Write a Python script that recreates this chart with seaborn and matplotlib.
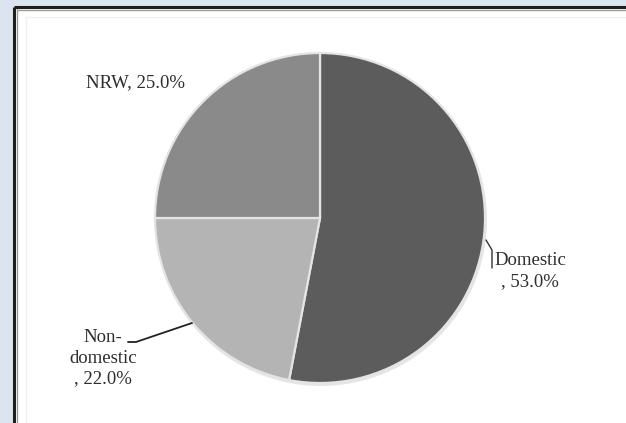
import matplotlib.pyplot as plt
import seaborn as sns
from matplotlib.patches import Rectangle

sns.set_theme(style="white")
plt.rcParams['font.family'] = ['Liberation Serif', 'DejaVu Serif']

# data
categories = ["Domestic", "Non-domestic", "NRW"]
shares = [53.0, 22.0, 25.0]
label_names = ["Domestic", "Non-\ndomestic", "NRW"]
colors = ["#5c5c5c", "#b4b4b4", "#8a8a8a"]

W, H = 626, 423


def Y(y_px):
    # pixel row (from top) -> data y (from bottom)
    return H - y_px


fig = plt.figure(figsize=(W / 100, H / 100), dpi=100, facecolor="#dbe4ef")
ax = fig.add_axes([0, 0, 1, 1])
ax.set_facecolor("none")

# white chart panel with dark top/left border
ax.add_patch(Rectangle((14, 0), W - 14, Y(7), facecolor="white", edgecolor="none", zorder=0))
ax.plot([14, 14], [0, Y(7)], color="#1e1e1e", lw=2.2, zorder=1, solid_capstyle="butt")
ax.plot([14, W], [Y(7), Y(7)], color="#1e1e1e", lw=2.2, zorder=1, solid_capstyle="butt")
ax.plot([16.5, 16.5], [0, Y(9)], color="#9a9a9a", lw=1, zorder=1)
ax.plot([16.5, W], [Y(9.5), Y(9.5)], color="#9a9a9a", lw=1, zorder=1)
# faint plot-area border
ax.plot([26, 26], [0, Y(17)], color="#f0f0f0", lw=1, zorder=1)
ax.plot([26, W], [Y(17), Y(17)], color="#f0f0f0", lw=1, zorder=1)

# soft shadow under pie
ax.pie([1], colors=["#e6e6e6"], center=(321, Y(220)), radius=166, wedgeprops=dict(linewidth=0))

wedges, _ = ax.pie(
    shares,
    colors=colors,
    startangle=90,
    counterclock=False,
    center=(320, Y(218)),
    radius=165,
    wedgeprops=dict(edgecolor="#e4e4e4", linewidth=1.6),
)

txt = dict(fontsize=13.5, color="#2e2e2e", ha="center", va="center")
ax.text(136, Y(83), f"{label_names[2]}, {shares[2]:.1f}%", **txt)
ax.text(530, Y(271), f"{label_names[0]}\n, {shares[0]:.1f}%", linespacing=1.3, **txt)
ax.text(103, Y(358), f"{label_names[1]}\n, {shares[1]:.1f}%", linespacing=1.3, **txt)

# leader lines
ax.plot([128, 136, 192], [Y(342), Y(342), Y(323)], color="#222222", lw=1.3)
ax.plot([486, 492, 492], [Y(240), Y(250), Y(268)], color="#333333", lw=1.0)

ax.set_xlim(0, W)
ax.set_ylim(0, H)
ax.set_aspect("auto")
ax.axis("off")

plt.savefig("out.png", dpi=100, facecolor=fig.get_facecolor())
plt.close()
